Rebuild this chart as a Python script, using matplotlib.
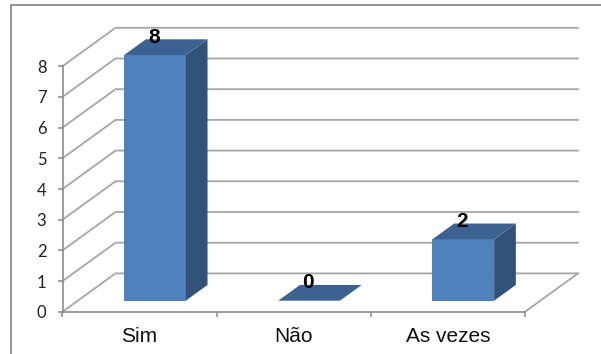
import matplotlib
matplotlib.use('Agg')
import matplotlib.pyplot as plt
from matplotlib.lines import Line2D
from matplotlib.patches import Polygon

# Chart data
categories = ['Sim', 'Não', 'As vezes']
values = [8, 0, 2]
y_ticks = [0, 1, 2, 3, 4, 5, 6, 7, 8]

# Colours of the bar faces
front_color = '#4F81BD'
top_color = '#3B6290'
side_color = '#325277'
grid_color = '#A6A6A6'
axis_color = '#8C8C8C'

W, H = 601, 354
fig = plt.figure(figsize=(W / 100, H / 100), dpi=100)

# Axes rectangle is the front face of the 3D box
left, right, bottom, top = 62.5, 525, 311.8, 66.2
ax = fig.add_axes([left / W, 1 - bottom / H, (right - left) / W, (bottom - top) / H])
ax.set_xlim(-0.5, 2.5)
ax.set_ylim(0, 8)
ax.patch.set_alpha(0)

# Shift of the back wall, in data units
depth_x = 53 / ((right - left) / 3)
depth_y = 38.4 / ((bottom - top) / 8)


# Oblique projection: d=0 is the front of the box, d=1 the back wall
def project(x, y, d):
    return x + d * depth_x, y + d * depth_y


# Gridlines on the side and back walls
for v in y_ticks:
    pts = [project(-0.5, v, 0), project(-0.5, v, 1), project(2.5, v, 1)]
    ax.plot(*zip(*pts), color=grid_color, lw=1.3, clip_on=False, zorder=1)

# Right edge of the floor
pts = [project(2.5, 0, 0), project(2.5, 0, 1)]
ax.plot(*zip(*pts), color=grid_color, lw=1.3, clip_on=False, zorder=1)

# Bars
bar_w = 0.4
d0, d1 = 0.29, 0.70
for i, v in enumerate(values):
    x0, x1 = i - bar_w / 2, i + bar_w / 2
    front = [project(x0, 0, d0), project(x1, 0, d0), project(x1, v, d0), project(x0, v, d0)]
    side = [project(x1, 0, d0), project(x1, 0, d1), project(x1, v, d1), project(x1, v, d0)]
    roof = [project(x0, v, d0), project(x1, v, d0), project(x1, v, d1), project(x0, v, d1)]
    if v > 0:
        ax.add_patch(Polygon(front, fc=front_color, ec='none', clip_on=False, zorder=3))
        ax.add_patch(Polygon(side, fc=side_color, ec='none', clip_on=False, zorder=3))
    ax.add_patch(Polygon(roof, fc=top_color, ec='none', clip_on=False, zorder=3))
    ax.annotate(str(v), xy=project(i, v, d0), xytext=(-0.6, 13), textcoords='offset points',
                ha='center', va='center', family='Liberation Sans', fontweight='bold',
                fontsize=15, color='black', zorder=5, annotation_clip=False)

# Axes lines and ticks
for s in ['top', 'right']:
    ax.spines[s].set_visible(False)
for s in ['left', 'bottom']:
    ax.spines[s].set_color(axis_color)
    ax.spines[s].set_linewidth(1.2)

ax.set_yticks(y_ticks)
ax.set_yticklabels([str(t) for t in y_ticks], family='Lato', fontsize=12, color='#222222')
ax.tick_params(axis='y', length=3.6, width=1.1, color=axis_color, pad=8)

ax.set_xticks(range(len(categories)))
ax.set_xticklabels(categories, family='Liberation Sans', fontsize=15, color='#111111')
ax.set_xticks([-0.5, 0.5, 1.5, 2.5], minor=True)
ax.tick_params(axis='x', which='major', length=0, pad=11)
ax.tick_params(axis='x', which='minor', length=3.6, width=1.1, color=axis_color)

# Chart area border: left and top edges
fig.add_artist(Line2D([11 / W, 11 / W, 1], [0, 1 - 4.5 / H, 1 - 4.5 / H],
                      color='#8A8A8A', lw=1.3))

fig.savefig('out.png', dpi=100)
